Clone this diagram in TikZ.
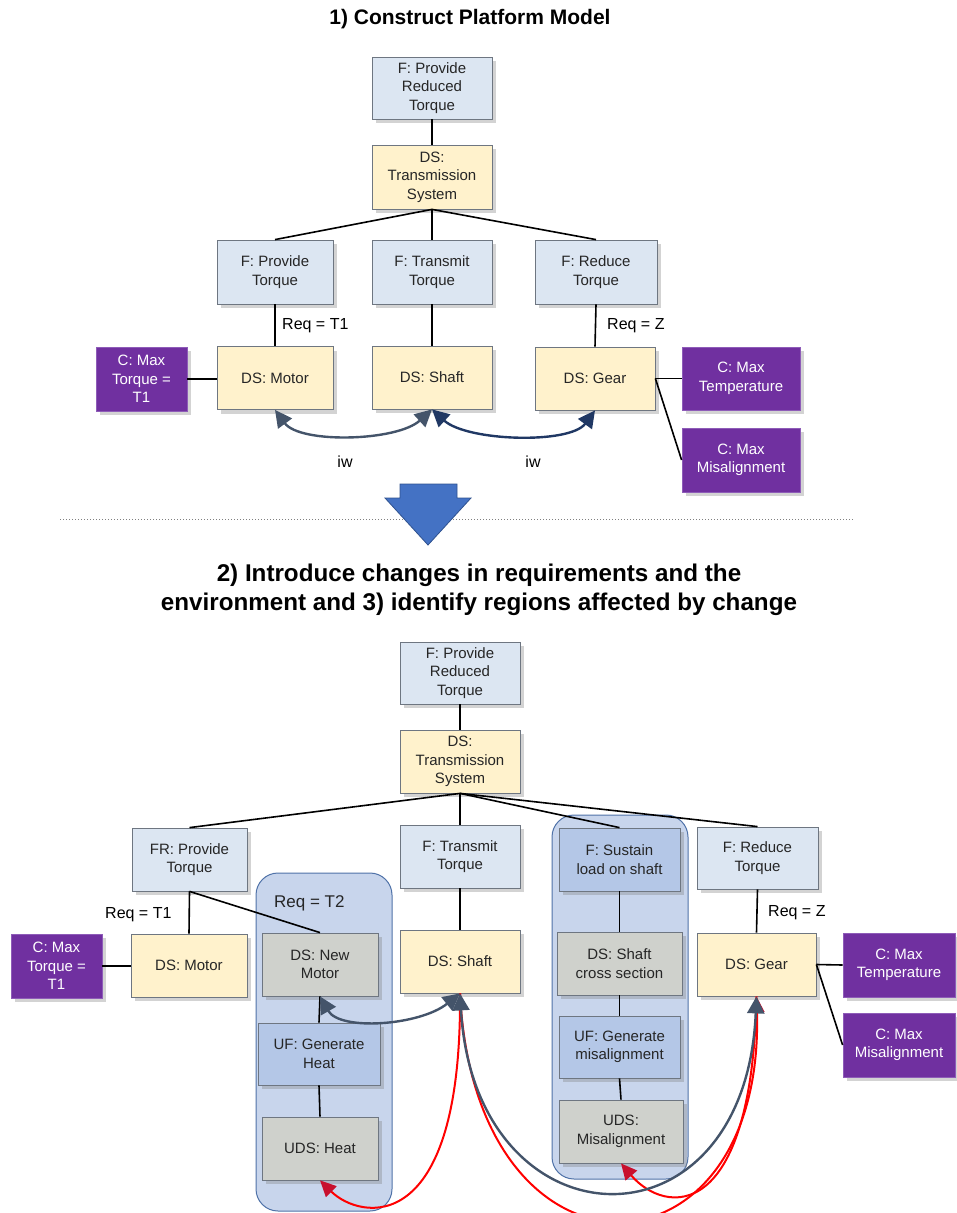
\documentclass[tikz,border=0pt]{standalone}
\usepackage{fontspec}
\setmainfont{Liberation Sans}
\usetikzlibrary{shadows,arrows.meta}
\definecolor{fcol}{HTML}{DCE6F2}
\definecolor{dscol}{HTML}{FFF2CC}
\definecolor{ccol}{HTML}{7030A0}
\definecolor{cline}{HTML}{8E5CB8}
\definecolor{gcol}{HTML}{CFD1CC}
\definecolor{ucol}{HTML}{B4C7E7}
\definecolor{regfill}{HTML}{C8D5EC}
\definecolor{regline}{HTML}{4F72A8}
\definecolor{boxline}{HTML}{6E7681}
\definecolor{textc}{HTML}{262626}
\definecolor{slate}{HTML}{44546A}
\definecolor{navy}{HTML}{203864}
\definecolor{arrblue}{HTML}{4472C4}
\definecolor{arrline}{HTML}{2F528F}
\definecolor{redtip}{HTML}{C8102E}
\begin{document}
\begin{tikzpicture}[x=1pt,y=-1pt,
  box/.style={draw=boxline, line width=0.8pt, align=center, inner sep=2pt, text=textc,
    font=\fontsize{15}{18.5}\selectfont,
    drop shadow={shadow xshift=4pt, shadow yshift=-4pt, opacity=0.35}},
  fbox/.style={box, fill=fcol},
  dsbox/.style={box, fill=dscol},
  cbox/.style={box, fill=ccol, draw=cline, text=white},
  gbox/.style={box, fill=gcol},
  ubox/.style={box, fill=ucol},
  sz/.style 2 args={minimum width=#1, minimum height=#2},
  link/.style={line width=1.6pt, black},
  lbl/.style={font=\fontsize{16}{19}\selectfont, text=black, inner sep=0pt},
  region/.style={draw=regline, fill=regfill, line width=1pt, rounded corners=22pt},
  iwarrow/.style={line width=2.4pt, {Triangle[length=17pt,width=17pt]}-{Triangle[length=17pt,width=17pt]}},
  redarrow/.style={line width=2pt, red, -{Triangle[length=16pt,width=15pt,color=redtip]}},
  title/.style={font=\fontsize{21}{25}\selectfont\bfseries, text=black, align=center}
]
\useasboundingbox (0,0) rectangle (957,1213);
\clip (0,0) rectangle (957,1213);

% ---------- Part 1 ----------
\node[title] (title1) at (470,19) {1) Construct Platform Model};

\node[fbox, sz={120}{62}] (tprt) at (432,88) {F: Provide\\Reduced\\Torque};
\node[dsbox, sz={120}{64}] (tts) at (432,177) {DS:\\Transmission\\System};
\node[fbox, sz={116}{64}] (tpt) at (275,272) {F: Provide\\Torque};
\node[fbox, sz={120}{64}] (ttt) at (432,272) {F: Transmit\\Torque};
\node[fbox, sz={122}{64}] (trt) at (596,272) {F: Reduce\\Torque};
\node[dsbox, sz={116}{63}] (tmotor) at (275,378) {DS: Motor};
\node[cbox, sz={91}{64}] (tcmax) at (141.5,379) {C: Max\\Torque =\\T1};
\node[dsbox, sz={120}{63}] (tshaft) at (432,377.5) {DS: Shaft};
\node[dsbox, sz={120}{63}] (tgear) at (595,378.5) {DS: Gear};
\node[cbox, sz={118}{63}] (tctemp) at (741,378.5) {C: Max\\Temperature};
\node[cbox, sz={118}{64}] (tcmis) at (741,460) {C: Max\\Misalignment};

\draw[link] (tprt.south) -- (tts.north);
\draw[link] (tts.south) -- (tpt.north);
\draw[link] (tts.south) -- (ttt.north);
\draw[link] (tts.south) -- (trt.north);
\draw[link] (tpt.south) -- (tmotor.north);
\draw[link] (ttt.south) -- (tshaft.north);
\draw[link] (trt.south) -- (tgear.north);
\draw[link] (tcmax.east) -- (tmotor.west |- tcmax.east);
\draw[link] (tgear.east) -- (tctemp.west);
\draw[link] (tgear.east) -- (tcmis.west);

\node[lbl, anchor=west] (treq1) at (282,326) {Req = T1};
\node[lbl, anchor=west] (treqz) at (607,326) {Req = Z};

\draw[iwarrow, slate] (tmotor.south) .. controls +(25,34) and +(-35,32) .. (tshaft.south);
\draw[iwarrow, navy] (tshaft.south) .. controls +(35,32) and +(-25,34) .. (tgear.south);
\node[lbl] (iw1) at (345,462) {iw};
\node[lbl] (iw2) at (533,462) {iw};

% ---------- separator ----------
\coordinate (dl) at (60,519);
\coordinate (dr) at (853,519);
\draw[gray, dotted, line width=1pt] (dl) -- (dr);
\draw[fill=arrblue, draw=arrline, line width=0.8pt]
  (400,484) -- (457,484) -- (457,498) -- (471,498) -- (428,545) -- (385,498) -- (400,498) -- cycle;

\node[title, font=\fontsize{24.2}{29}\selectfont\bfseries] (title2) at (479,590)
  {2) Introduce changes in requirements and the\\environment and 3) identify regions affected by change};

% ---------- Part 2 ----------
\draw[region] (256,873) rectangle (392,1211);
\draw[region] (552,815) rectangle (688,1179);
\node[lbl, anchor=west, text=textc, font=\fontsize{17}{20}\selectfont] (req2) at (274,903) {Req = T2};

\node[fbox, sz={120}{62}] (bprt) at (460,673) {F: Provide\\Reduced\\Torque};
\node[dsbox, sz={120}{63}] (bts) at (460,761.5) {DS:\\Transmission\\System};
\node[fbox, sz={115}{63}] (bpt) at (189.5,859.5) {FR: Provide\\Torque};
\node[fbox, sz={120}{63}] (btt) at (460,856.5) {F: Transmit\\Torque};
\node[ubox, sz={121}{63}] (bsus) at (619.5,859.5) {F: Sustain\\load on shaft};
\node[fbox, sz={121}{62}] (brt) at (757.5,858) {F: Reduce\\Torque};
\node[dsbox, sz={116}{63}] (bmotor) at (189,965.5) {DS: Motor};
\node[cbox, sz={91}{64}] (bcmax) at (56.5,966) {C: Max\\Torque =\\T1};
\node[gbox, sz={116}{63}] (bnm) at (320,964.5) {DS: New\\Motor};
\node[ubox, sz={122}{62}] (bgh) at (319,1054) {UF: Generate\\Heat};
\node[gbox, sz={116}{63}] (bheat) at (320,1148.5) {UDS: Heat};
\node[dsbox, sz={120}{63}] (bshaft) at (460,961.5) {DS: Shaft};
\node[gbox, sz={125}{63}] (bscs) at (619.5,963.5) {DS: Shaft\\cross section};
\node[ubox, sz={121}{62}] (bgm) at (619.5,1047) {UF: Generate\\misalignment};
\node[gbox, sz={124}{63}] (bum) at (621,1131.5) {UDS:\\Misalignment};
\node[dsbox, sz={119}{63}] (bgear) at (756.5,964.5) {DS: Gear};
\node[cbox, sz={112}{64}] (bctemp) at (899,965) {C: Max\\Temperature};
\node[cbox, sz={112}{64}] (bcmis) at (899,1045) {C: Max\\Misalignment};

\draw[link] (bprt.south) -- (bts.north);
\draw[link] (bts.south) -- (bpt.north);
\draw[link] (bts.south) -- (btt.north);
\draw[link] (bts.south) -- (bsus.north);
\draw[link] (bts.south) -- (brt.north);
\draw[link] (bpt.south) -- (bmotor.north);
\draw[link] (bpt.south) -- (bnm.north);
\draw[link] (bcmax.east) -- (bmotor.west |- bcmax.east);
\draw[link] (btt.south) -- (bshaft.north);
\draw[link] (bnm.south) -- (bgh.north);
\draw[link] (bgh.south) -- (bheat.north);
\draw[link] (bsus.south) -- (bscs.north);
\draw[link] (bscs.south) -- (bgm.north);
\draw[link] (bgm.south) -- (bum.north);
\draw[link] (brt.south) -- (bgear.north);
\draw[link] (bgear.east) -- (bctemp.west);
\draw[link] (bgear.east) -- (bcmis.west);

\node[lbl, anchor=west] (breq1) at (105,915) {Req = T1};
\node[lbl, anchor=west] (breqz) at (768,913) {Req = Z};

% red impact arrows
\draw[redarrow] (bshaft.south) .. controls (462,1240) and (360,1220) .. (bheat.south);
\draw[redarrow] (bshaft.south) .. controls (475,1300) and (765,1290) .. (bgear.south);
\draw[redarrow] (bgear.south) .. controls (752,1225) and (665,1215) .. (bum.south);
% interaction arrows
\draw[iwarrow, slate] (bnm.south) .. controls +(20,35) and +(-40,32) .. (bshaft.south);
\draw[iwarrow, slate] (bshaft.south) .. controls (475,1250) and (745,1260) .. (bgear.south);
\end{tikzpicture}
\end{document}
